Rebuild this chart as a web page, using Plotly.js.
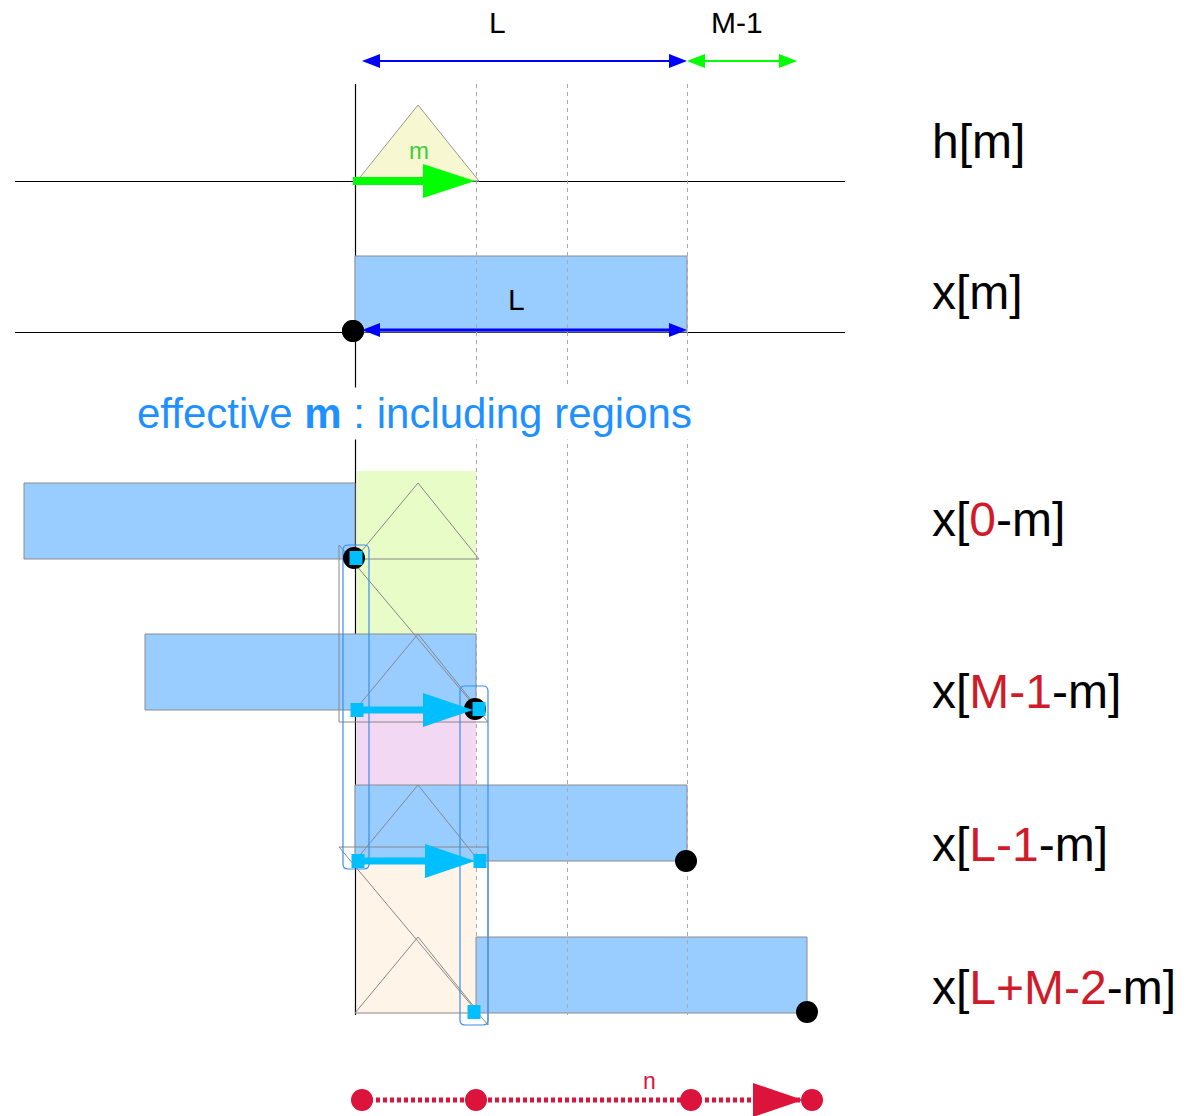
<!DOCTYPE html>
<html>
<head>
<meta charset="utf-8">
<script src="https://cdn.plot.ly/plotly-3.0.1.min.js"></script>
<style>html,body{margin:0;padding:0;background:#fff;}#chart{width:1191px;height:1116px;}</style>
</head>
<body>
<div id="chart"></div>
<script>
// ---- diagram data (pixel-like diagram units) ----
const rowLabels = ['h[m]', 'x[m]',
  'x[<span style="color:#d01c2a">0</span>-m]',
  'x[<span style="color:#d01c2a">M-1</span>-m]',
  'x[<span style="color:#d01c2a">L-1</span>-m]',
  'x[<span style="color:#d01c2a">L+M-2</span>-m]'];
const rowLabelY = [141, 292, 519, 691, 844, 987];
const labelX = 930;

const axisX = 355;               // m = 0 column
const gridX = [476, 567, 687];   // dashed columns
const gridTop = 84, gridBottom = 1015;
const baseLineY = [181.5, 332.5];    // black horizontal lines
const baseLineX = [15, 845];

// sliding x bars: x[m], x[0-m], x[M-1-m], x[L-1-m], x[L+M-2-m]
const barLeft   = [355, 24, 145, 355, 476];
const barRight  = [687, 355, 476, 687, 807];
const barTop    = [256, 483, 634, 785, 937];
const barBottom = [332, 559, 710, 861, 1013];

// h window triangles: h[m] row plus the four shifted rows
const triX     = [357, 418, 479];
const triApexY = [105, 483, 634, 785, 937];
const triBaseY = [181, 559, 710, 861, 1013];

// shaded regions
const regionX = [357, 476];
const regionTop    = [471, 709, 785];
const regionBottom = [709, 785, 1013];
const regionColor  = ['#e8fcc8', '#f3d8f3', '#fef4e7'];

// black end points
const dotX = [353, 354, 475, 686, 807];
const dotY = [331, 558, 709, 861, 1012];

// cyan squares
const sqX = [356, 357, 479, 358, 480, 474];
const sqY = [558, 710, 709, 861, 861, 1012];

// cyan arrows
const cyanArrowY = [710, 861];
const cyanArrowX = [[357, 477], [359, 479]];

// blue rounded outline boxes
const boxX0 = [343, 460], boxX1 = [369, 488];
const boxY0 = [545, 686], boxY1 = [869, 1025];

// bottom n axis
const nY = 1100;
const nDotX = [362, 476, 691, 812];

// top span arrows
const spanY = 61;
const spanL = [362, 687];
const spanM1 = [687, 797];

// ---- helpers ----
const shapes = [];
function ln(x0, y0, x1, y1, color, width, dash) {
  shapes.push({type: 'line', xref: 'x', yref: 'y', x0, y0, x1, y1,
    line: {color, width, dash: dash || 'solid'}});
}
function poly(pts, fill, lineColor, lw) {
  let p = 'M' + pts.map(q => q[0] + ',' + q[1]).join(' L') + ' Z';
  shapes.push({type: 'path', xref: 'x', yref: 'y', path: p, fillcolor: fill || 'rgba(0,0,0,0)',
    line: {color: lineColor || 'rgba(0,0,0,0)', width: lineColor ? (lw || 1) : 0}});
}
function rect(x0, y0, x1, y1, fill, lineColor, lw) {
  shapes.push({type: 'rect', xref: 'x', yref: 'y', x0, y0, x1, y1, fillcolor: fill,
    line: {color: lineColor || 'rgba(0,0,0,0)', width: lineColor ? (lw || 1) : 0}});
}
function circ(cx, cy, r, color) {
  shapes.push({type: 'circle', xref: 'x', yref: 'y', x0: cx - r, y0: cy - r, x1: cx + r, y1: cy + r,
    fillcolor: color, line: {width: 0}});
}
function rrect(x0, y0, x1, y1, r, color) {
  const p = `M${x0 + r},${y0} L${x1 - r},${y0} Q${x1},${y0} ${x1},${y0 + r} L${x1},${y1 - r} Q${x1},${y1} ${x1 - r},${y1} L${x0 + r},${y1} Q${x0},${y1} ${x0},${y1 - r} L${x0},${y0 + r} Q${x0},${y0} ${x0 + r},${y0} Z`;
  shapes.push({type: 'path', xref: 'x', yref: 'y', path: p, fillcolor: 'rgba(0,0,0,0)', line: {color, width: 1.2}});
}
function head(tipX, y, dir, len, half, color) {
  poly([[tipX, y], [tipX - dir * len, y - half], [tipX - dir * len, y + half]], color);
}
function dblArrow(x0, x1, y, color, w) {
  ln(x0 + 10, y, x1 - 10, y, color, w);
  head(x0, y, -1, 18, 7, color);
  head(x1, y, 1, 18, 7, color);
}

// ---- build diagram ----
for (let i = 0; i < regionTop.length; i++) rect(regionX[0], regionTop[i], regionX[1], regionBottom[i], regionColor[i]);

baseLineY.forEach(y => ln(baseLineX[0], y, baseLineX[1], y, '#000', 1));
ln(axisX + 0.5, gridTop, axisX + 0.5, gridBottom, '#000', 1.2);

poly([[triX[0], triBaseY[0]], [triX[1], triApexY[0]], [triX[2], triBaseY[0]]], '#f7f7d2', '#999', 1);

for (let i = 0; i < barLeft.length; i++) rect(barLeft[i], barTop[i], barRight[i], barBottom[i], '#99ccff', '#8c8c8c', 1);

gridX.forEach(x => ln(x + 0.5, gridTop, x + 0.5, gridBottom, '#aaaaaa', 1, '4px,4px'));

for (let i = 1; i < triApexY.length; i++) {
  const pts = [[axisX, triBaseY[i]], [triX[1], triApexY[i]], [triX[2], triBaseY[i]]];
  shapes.push({type: 'path', xref: 'x', yref: 'y',
    path: `M${pts[0][0]},${pts[0][1]} L${pts[1][0]},${pts[1][1]} L${pts[2][0]},${pts[2][1]}`,
    line: {color: '#888', width: 1}});
}
ln(barRight[1], barBottom[1], triX[2], barBottom[1], '#888', 1);
ln(axisX, barBottom[4], barLeft[4], barBottom[4], '#888', 1);

shapes.push({type: 'path', xref: 'x', yref: 'y', path: 'M339,545 L339,722 L488,722 Z', line: {color: '#888', width: 1}});
shapes.push({type: 'path', xref: 'x', yref: 'y', path: 'M339,847 L488,847 L488,1025 Z', line: {color: '#888', width: 1}});

for (let i = 0; i < boxX0.length; i++) rrect(boxX0[i], boxY0[i], boxX1[i], boxY1[i], 5, '#3d8ef0');

for (let i = 0; i < dotX.length; i++) circ(dotX[i], dotY[i], 11, '#000');

for (let i = 0; i < cyanArrowY.length; i++) {
  const [a, b] = cyanArrowX[i];
  ln(a, cyanArrowY[i], b - 40, cyanArrowY[i], '#00bfff', 7);
  head(b - 4, cyanArrowY[i], 1, 50, 17, '#00bfff');
}
for (let i = 0; i < sqX.length; i++) rect(sqX[i] - 6.5, sqY[i] - 7, sqX[i] + 6.5, sqY[i] + 7, '#00bfff');

ln(353, 181, 440, 181, '#00ff00', 8);
head(475, 181, 1, 52, 17, '#00ff00');

dblArrow(spanL[0], spanL[1], spanY, '#0000ff', 2);
dblArrow(spanM1[0], spanM1[1], spanY, '#00ff00', 2);
dblArrow(spanL[0], spanL[1], 330, '#0000ff', 3);
circ(dotX[0], dotY[0], 11, '#000');

ln(nDotX[0], nY, nDotX[3], nY, '#dc143c', 5, '4px,3px');
nDotX.forEach(x => circ(x, nY, 11, '#dc143c'));
head(803, nY, 1, 50, 17, '#dc143c');

// ---- texts ----
const F = 'Liberation Sans, Arial, sans-serif';
const annotations = [];
function txt(x, y, text, size, color, opts) {
  annotations.push(Object.assign({xref: 'x', yref: 'y', x, y, text, showarrow: false,
    font: {family: F, size, color}, xanchor: 'center', yanchor: 'middle'}, opts || {}));
}
rowLabels.forEach((t, i) => txt(labelX, rowLabelY[i], t, 48, '#000', {xanchor: 'left'}));
txt(497, 22, 'L', 30, '#000');
txt(737, 22, 'M-1', 30, '#000');
txt(516, 299, 'L', 30, '#000');
txt(419, 150, 'm', 24, '#3ccf3c');
txt(649, 1081, 'n', 23, '#dc143c');
txt(414, 413, 'effective <b>m</b> : including regions', 42, '#1e90ff', {bgcolor: '#ffffff', borderpad: 2});

const layout = {
  width: 1191, height: 1116,
  margin: {l: 0, r: 0, t: 0, b: 0, pad: 0},
  paper_bgcolor: '#fff', plot_bgcolor: '#fff',
  xaxis: {range: [0, 1191], visible: false, fixedrange: true},
  yaxis: {range: [1116, 0], visible: false, fixedrange: true},
  showlegend: false,
  shapes, annotations
};
Plotly.newPlot('chart', [{x: [], y: [], type: 'scatter', mode: 'markers', hoverinfo: 'skip'}], layout, {staticPlot: true, displayModeBar: false});
</script>
</body>
</html>
